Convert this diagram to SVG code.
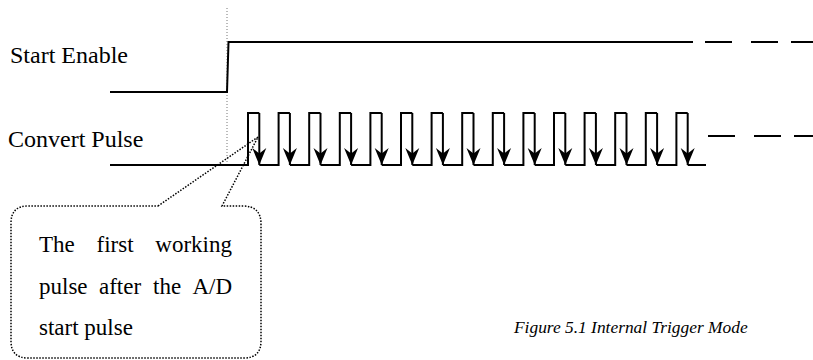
<svg xmlns="http://www.w3.org/2000/svg" width="813" height="360" viewBox="0 0 813 360">
<style>
.sig{fill:none;stroke:#000;stroke-width:2}
.dash{fill:none;stroke:#000;stroke-width:2}
.lbl{font-family:"Liberation Serif","Times New Roman",serif;font-size:24px;fill:#000}
.txt{font-family:"Liberation Serif","Times New Roman",serif;font-size:23px;fill:#000}
.cap{font-family:"Liberation Serif","Times New Roman",serif;font-size:17.4px;font-style:italic;fill:#000}
.callout{fill:none;stroke:#000;stroke-width:1.5;stroke-dasharray:1.5 1.5}
</style>
<defs>
<marker id="ah" markerUnits="userSpaceOnUse" markerWidth="18" markerHeight="15" viewBox="0 0 18 15" refX="17" refY="7.5" orient="auto" overflow="visible">
<path d="M0,0.5 L17,7.5 L0,14.5 L5.5,7.5 Z" fill="#000"/>
</marker>
</defs>
<rect width="813" height="360" fill="#fff"/>
<g id="ref-line">
<line x1="227" y1="8" x2="227" y2="163" stroke="#777" stroke-width="1" stroke-dasharray="1 2"/>
</g>
<g id="start-enable">
<text class="lbl" x="10" y="63">Start Enable</text>
<path class="sig" d="M110,92 L227,92 L228.5,42 L693,42"/>
<path class="dash" d="M705,42 H732 M751,42 H778 M791,42 H813"/>
</g>
<g id="convert-pulse">
<text class="lbl" x="8" y="147">Convert Pulse</text>
<path class="sig" d="M110,165 H248 V113 H259.3 M259.3,165 H278.6 V113 H289.9 M289.9,165 H309.2 V113 H320.5 M320.5,165 H339.8 V113 H351.1 M351.1,165 H370.4 V113 H381.7 M381.7,165 H401 V113 H412.3 M412.3,165 H431.6 V113 H442.9 M442.9,165 H462.2 V113 H473.5 M473.5,165 H492.8 V113 H504.1 M504.1,165 H523.4 V113 H534.7 M534.7,165 H554 V113 H565.3 M565.3,165 H584.6 V113 H595.9 M595.9,165 H615.2 V113 H626.5 M626.5,165 H645.8 V113 H657.1 M657.1,165 H676.4 V113 H687.7 M687.7,165 H706"/>
<path class="dash" d="M708,136 H735 M754,136 H781 M794,136 H813"/>
</g>
<g id="connectors">
<g class="sig" marker-end="url(#ah)">
<line x1="259.3" y1="113" x2="259.3" y2="165"/>
<line x1="289.9" y1="113" x2="289.9" y2="165"/>
<line x1="320.5" y1="113" x2="320.5" y2="165"/>
<line x1="351.1" y1="113" x2="351.1" y2="165"/>
<line x1="381.7" y1="113" x2="381.7" y2="165"/>
<line x1="412.3" y1="113" x2="412.3" y2="165"/>
<line x1="442.9" y1="113" x2="442.9" y2="165"/>
<line x1="473.5" y1="113" x2="473.5" y2="165"/>
<line x1="504.1" y1="113" x2="504.1" y2="165"/>
<line x1="534.7" y1="113" x2="534.7" y2="165"/>
<line x1="565.3" y1="113" x2="565.3" y2="165"/>
<line x1="595.9" y1="113" x2="595.9" y2="165"/>
<line x1="626.5" y1="113" x2="626.5" y2="165"/>
<line x1="657.1" y1="113" x2="657.1" y2="165"/>
<line x1="687.7" y1="113" x2="687.7" y2="165"/>
</g>
</g>
<g id="callout">
<path class="callout" d="M158,206 L258,137 L222,206 L243,206 Q261,206 261,224 L261,341 Q261,358 244,358 L28,358 Q11,358 11,341 L11,223 Q11,206 28,206 Z"/>
<text class="txt"><tspan x="39" y="252">The</tspan><tspan x="96.5" y="252">first</tspan><tspan x="232" y="252" text-anchor="end">working</tspan></text>
<text class="txt"><tspan x="39" y="294">pulse</tspan><tspan x="99" y="294">after</tspan><tspan x="153" y="294">the</tspan><tspan x="232" y="294" text-anchor="end">A/D</tspan></text>
<text class="txt" x="39" y="335">start pulse</text>
</g>
<g id="caption">
<text class="cap" x="514" y="333">Figure 5.1 Internal Trigger Mode</text>
</g>
</svg>
